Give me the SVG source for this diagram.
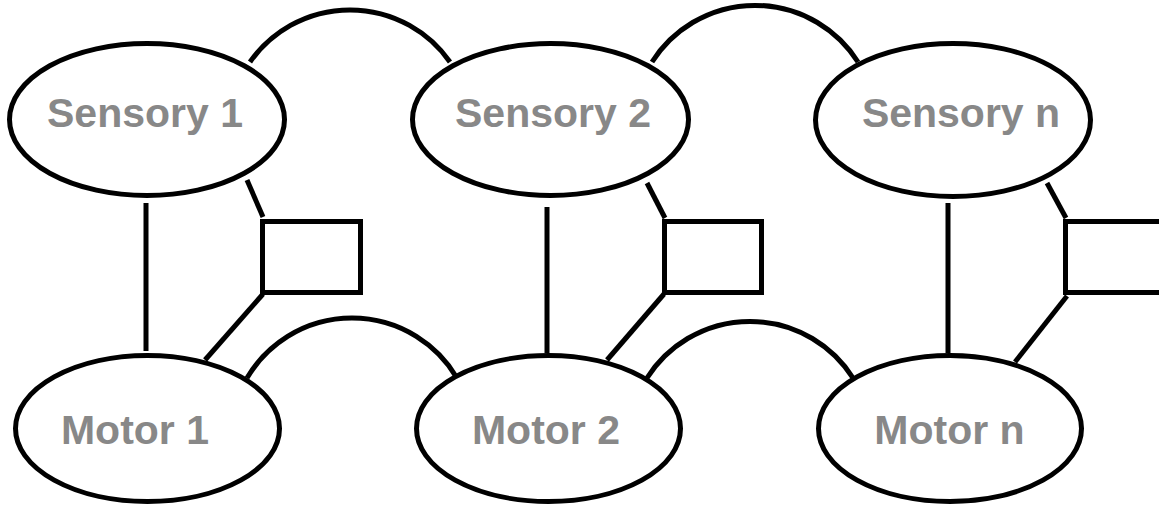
<svg xmlns="http://www.w3.org/2000/svg" width="1159" height="508" viewBox="0 0 1159 508">
<style>
.n{fill:#fff;stroke:#000;stroke-width:5}
.c{fill:none;stroke:#000;stroke-width:5}
.t{font-family:"Liberation Sans",Arial,sans-serif;font-weight:bold;font-size:41px;fill:#888;text-anchor:middle}
</style>
<rect width="1159" height="508" fill="#fff"/>
<g id="connectors">
<path class="c" d="M250,62 A122,122 0 0 1 450,62"/>
<path class="c" d="M652,62 A122,122 0 0 1 858,62"/>
<path class="c" d="M247,378 A122,122 0 0 1 457,378"/>
<path class="c" d="M647,378 A122,122 0 0 1 853,378"/>
<line class="c" x1="146" y1="203" x2="146" y2="351"/>
<line class="c" x1="547" y1="207" x2="547" y2="353"/>
<line class="c" x1="948" y1="203" x2="948" y2="353"/>
<line class="c" x1="247" y1="180" x2="263" y2="217"/>
<line class="c" x1="647" y1="183" x2="665" y2="218"/>
<line class="c" x1="1047" y1="183" x2="1066" y2="218"/>
<line class="c" x1="263" y1="294" x2="205" y2="360"/>
<line class="c" x1="664" y1="294" x2="607" y2="360"/>
<line class="c" x1="1067" y1="296" x2="1015" y2="362"/>
</g>
<g id="box1"><rect class="c" x="262.5" y="221.5" width="98" height="71"/></g>
<g id="box2"><rect class="c" x="664.5" y="221.5" width="97" height="71"/></g>
<g id="box3"><rect class="c" x="1065.5" y="221.5" width="110" height="71"/></g>
<g id="sensory1"><ellipse class="n" cx="147" cy="119.5" rx="137.5" ry="76"/><text class="t" x="145" y="127">Sensory 1</text></g>
<g id="sensory2"><ellipse class="n" cx="550.5" cy="119.5" rx="138" ry="76"/><text class="t" x="553" y="127">Sensory 2</text></g>
<g id="sensoryn"><ellipse class="n" cx="953" cy="120" rx="137.5" ry="76.5"/><text class="t" x="961" y="127">Sensory n</text></g>
<g id="motor1"><ellipse class="n" cx="147.5" cy="428.5" rx="132" ry="73"/><text class="t" x="135" y="444">Motor 1</text></g>
<g id="motor2"><ellipse class="n" cx="548.5" cy="428.5" rx="132" ry="73"/><text class="t" x="546" y="444">Motor 2</text></g>
<g id="motorn"><ellipse class="n" cx="950" cy="428.5" rx="131.5" ry="73"/><text class="t" x="949.5" y="444">Motor n</text></g>
</svg>
